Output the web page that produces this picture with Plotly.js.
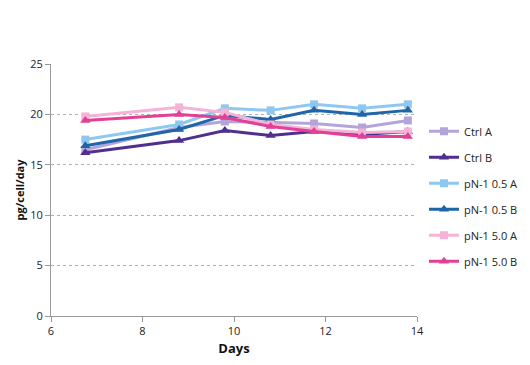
<!DOCTYPE html>
<html><head><meta charset="utf-8">
<script src="https://cdn.plot.ly/plotly-3.0.1.min.js"></script>
<style>body{margin:0;background:#fff}#c{width:530px;height:365px}</style>
</head><body><div id="c"></div>
<script>
const days = [6.75, 8.8, 9.8, 10.8, 11.75, 12.8, 13.8];
const seriesNames = ["Ctrl A", "Ctrl B", "pN-1 0.5 A", "pN-1 0.5 B", "pN-1 5.0 A", "pN-1 5.0 B"];
const ctrlA = [16.5, 18.7, 19.3, 19.2, 19.1, 18.7, 19.4];
const ctrlB = [16.2, 17.4, 18.4, 17.9, 18.3, 18.0, 18.3];
const pn05A = [17.5, 19.0, 20.6, 20.4, 21.0, 20.6, 21.0];
const pn05B = [16.9, 18.5, 19.9, 19.5, 20.4, 20.0, 20.4];
const pn50A = [19.8, 20.7, 20.2, 19.0, 18.5, 18.2, 18.3];
const pn50B = [19.4, 20.0, 19.7, 18.8, 18.3, 17.8, 17.8];
const xTicks = [6, 8, 10, 12, 14];
const yTicks = [0, 5, 10, 15, 20, 25];

const values = [ctrlA, ctrlB, pn05A, pn05B, pn50A, pn50B];
const colors = ["#b4a4dc", "#4f2f8f", "#8ec8f2", "#1f66a8", "#f6b3d8", "#e33f96"];
const symbols = ["square", "triangle-up", "square", "triangle-up", "square", "triangle-up"];

const traces = values.map((v, i) => ({
  x: days, y: v, name: seriesNames[i], type: "scatter", mode: "lines+markers",
  legendgroup: "g" + i,
  line: {color: colors[i], width: 3},
  marker: {color: colors[i], symbol: symbols[i], size: symbols[i] === "square" ? 8 : 9}
}));

const layout = {
  width: 530, height: 365,
  margin: {l: 51, r: 113, t: 64, b: 49},
  paper_bgcolor: "#fff", plot_bgcolor: "#fff",
  font: {family: "Open Sans, Liberation Sans, sans-serif", size: 11, color: "#222"},
  showlegend: true,
  legend: {xref: "container", yref: "container", x: 0.8, y: 0.68, xanchor: "left", yanchor: "top", tracegroupgap: 7,
    font: {size: 11, color: "#222"}, itemwidth: 30, bgcolor: "rgba(0,0,0,0)"},
  xaxis: {range: [6, 14], tickvals: xTicks, ticktext: xTicks.map(String), showgrid: false, zeroline: false,
    showline: true, linecolor: "#999", linewidth: 1, ticks: "outside", ticklen: 5, tickcolor: "#999",
    tickfont: {size: 11, color: "#222"},
    title: {text: "<b>Days</b>", font: {size: 13, color: "#111"}, standoff: 6}},
  yaxis: {range: [0, 25], tickvals: yTicks, ticktext: yTicks.map(String), showgrid: true, gridcolor: "#b0b0b0",
    griddash: "dot", gridwidth: 1, zeroline: false,
    showline: true, linecolor: "#999", linewidth: 1, ticks: "outside", ticklen: 5, tickcolor: "#999",
    tickfont: {size: 11, color: "#222"},
    title: {text: "<b>pg/cell/day</b>", font: {size: 11, color: "#111"}, standoff: 3}}
};
Plotly.newPlot("c", traces, layout, {displayModeBar: false, staticPlot: true});
</script></body></html>
